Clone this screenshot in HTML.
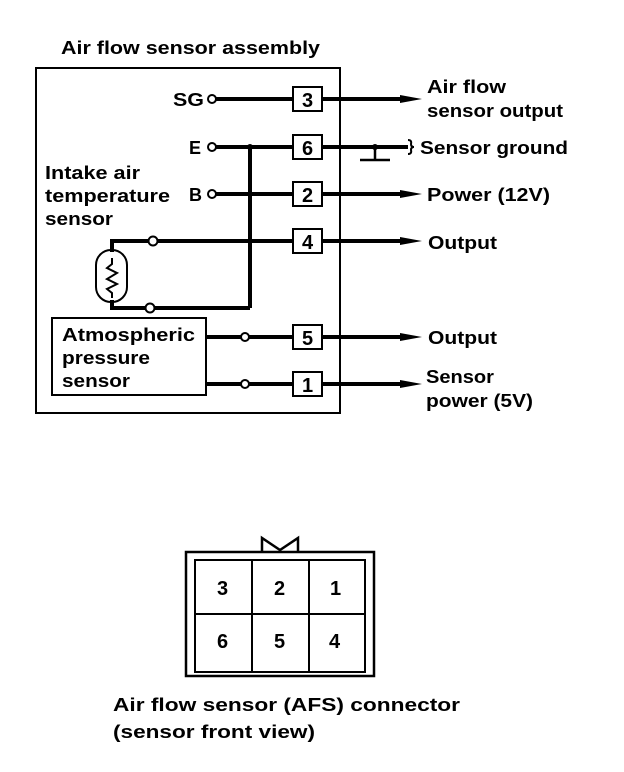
<!DOCTYPE html>
<html><head><meta charset="utf-8"><style>
html,body{margin:0;padding:0;background:#fff;}
svg{display:block;}
text{font-family:"Liberation Sans",sans-serif;font-weight:bold;fill:#000;}
</style></head><body>
<svg width="624" height="772" viewBox="0 0 624 772" xmlns="http://www.w3.org/2000/svg">
<g stroke="#000" fill="none">
<rect x="36" y="68" width="304" height="345" stroke-width="2"/>
<g stroke-width="2" fill="#fff">
<rect x="293" y="87" width="29" height="24"/>
<rect x="293" y="135" width="29" height="24"/>
<rect x="293" y="182" width="29" height="24"/>
<rect x="293" y="229" width="29" height="24"/>
<rect x="293" y="325" width="29" height="24"/>
<rect x="293" y="372" width="29" height="24"/>
</g>
<g stroke-width="4">
<line x1="216" y1="99" x2="293" y2="99"/>
<line x1="216" y1="147" x2="293" y2="147"/>
<line x1="216" y1="194" x2="293" y2="194"/>
<line x1="157" y1="241" x2="293" y2="241"/>
<line x1="250" y1="147" x2="250" y2="308"/>
<polyline points="112,252 112,241 149,241"/>
<polyline points="112,300 112,308 146,308"/>
<line x1="154" y1="308" x2="250" y2="308"/>
<line x1="206" y1="337" x2="241" y2="337"/>
<line x1="249" y1="337" x2="293" y2="337"/>
<line x1="206" y1="384" x2="241" y2="384"/>
<line x1="249" y1="384" x2="293" y2="384"/>
<line x1="322" y1="99" x2="405" y2="99"/>
<line x1="322" y1="147" x2="408" y2="147"/>
<line x1="322" y1="194" x2="405" y2="194"/>
<line x1="322" y1="241" x2="405" y2="241"/>
<line x1="322" y1="337" x2="405" y2="337"/>
<line x1="322" y1="384" x2="405" y2="384"/>
</g>
<g fill="#000" stroke="none">
<polygon points="400,95 422,99 400,103"/>
<polygon points="400,190 422,194 400,198"/>
<polygon points="400,237 422,241 400,245"/>
<polygon points="400,333 422,337 400,341"/>
<polygon points="400,380 422,384 400,388"/>
<circle cx="250" cy="147" r="3"/>
<circle cx="375" cy="147" r="3"/>
</g>
<line x1="375" y1="147" x2="375" y2="160" stroke-width="2.5"/>
<line x1="360" y1="160" x2="390" y2="160" stroke-width="2.5"/>
<path d="M408,140 q4,0 3,4 q0,3 3,3 q-3,0 -3,3 q1,4 -3,4" stroke-width="2"/>
<g stroke-width="2" fill="#fff">
<circle cx="212" cy="99" r="4"/>
<circle cx="212" cy="147" r="4"/>
<circle cx="212" cy="194" r="4"/>
<circle cx="153" cy="241" r="4.5"/>
<circle cx="150" cy="308" r="4.5"/>
<circle cx="245" cy="337" r="4"/>
<circle cx="245" cy="384" r="4"/>
</g>
<rect x="96" y="250" width="31" height="52" rx="15" stroke-width="2"/>
<polyline points="112,258 112,264 107,268 117,273 107,279 117,284 107,289 112,293 112,298" stroke-width="2"/>
<rect x="52" y="318" width="154" height="77" stroke-width="2"/>
<rect x="186" y="552" width="188" height="124" stroke-width="2.5"/>
<rect x="195" y="560" width="170" height="112" stroke-width="2"/>
<line x1="195" y1="614" x2="365" y2="614" stroke-width="2"/>
<line x1="252" y1="560" x2="252" y2="672" stroke-width="2"/>
<line x1="309" y1="560" x2="309" y2="672" stroke-width="2"/>
<polyline points="262,552 262,538 280,550 298,538 298,552" stroke-width="2.5"/>
</g>
<g font-size="18">
<text x="61" y="54" textLength="259" lengthAdjust="spacingAndGlyphs">Air flow sensor assembly</text>
<text x="173" y="106" textLength="31" lengthAdjust="spacingAndGlyphs">SG</text>
<text x="189" y="154">E</text>
<text x="189" y="201">B</text>
<text x="45" y="179" textLength="95" lengthAdjust="spacingAndGlyphs">Intake air</text>
<text x="45" y="202" textLength="125" lengthAdjust="spacingAndGlyphs">temperature</text>
<text x="45" y="225" textLength="68" lengthAdjust="spacingAndGlyphs">sensor</text>
<text x="62" y="341" textLength="133" lengthAdjust="spacingAndGlyphs">Atmospheric</text>
<text x="62" y="364" textLength="88" lengthAdjust="spacingAndGlyphs">pressure</text>
<text x="62" y="387" textLength="68" lengthAdjust="spacingAndGlyphs">sensor</text>
<g font-size="20">
<text x="302" y="107">3</text>
<text x="302" y="155">6</text>
<text x="302" y="202">2</text>
<text x="302" y="249">4</text>
<text x="302" y="345">5</text>
<text x="302" y="392">1</text>
</g>
<text x="427" y="93" textLength="79" lengthAdjust="spacingAndGlyphs">Air flow</text>
<text x="427" y="117" textLength="136" lengthAdjust="spacingAndGlyphs">sensor output</text>
<text x="420" y="154" textLength="148" lengthAdjust="spacingAndGlyphs">Sensor ground</text>
<text x="427" y="201" textLength="123" lengthAdjust="spacingAndGlyphs">Power (12V)</text>
<text x="428" y="249" textLength="69" lengthAdjust="spacingAndGlyphs">Output</text>
<text x="428" y="344" textLength="69" lengthAdjust="spacingAndGlyphs">Output</text>
<text x="426" y="383" textLength="68" lengthAdjust="spacingAndGlyphs">Sensor</text>
<text x="426" y="407" textLength="107" lengthAdjust="spacingAndGlyphs">power (5V)</text>
<g font-size="20">
<text x="217" y="595">3</text>
<text x="274" y="595">2</text>
<text x="330" y="595">1</text>
<text x="217" y="648">6</text>
<text x="274" y="648">5</text>
<text x="329" y="648">4</text>
</g>
<text x="113" y="711" textLength="347" lengthAdjust="spacingAndGlyphs">Air flow sensor (AFS) connector</text>
<text x="113" y="738" textLength="202" lengthAdjust="spacingAndGlyphs">(sensor front view)</text>
</g>
</svg>
</body></html>
